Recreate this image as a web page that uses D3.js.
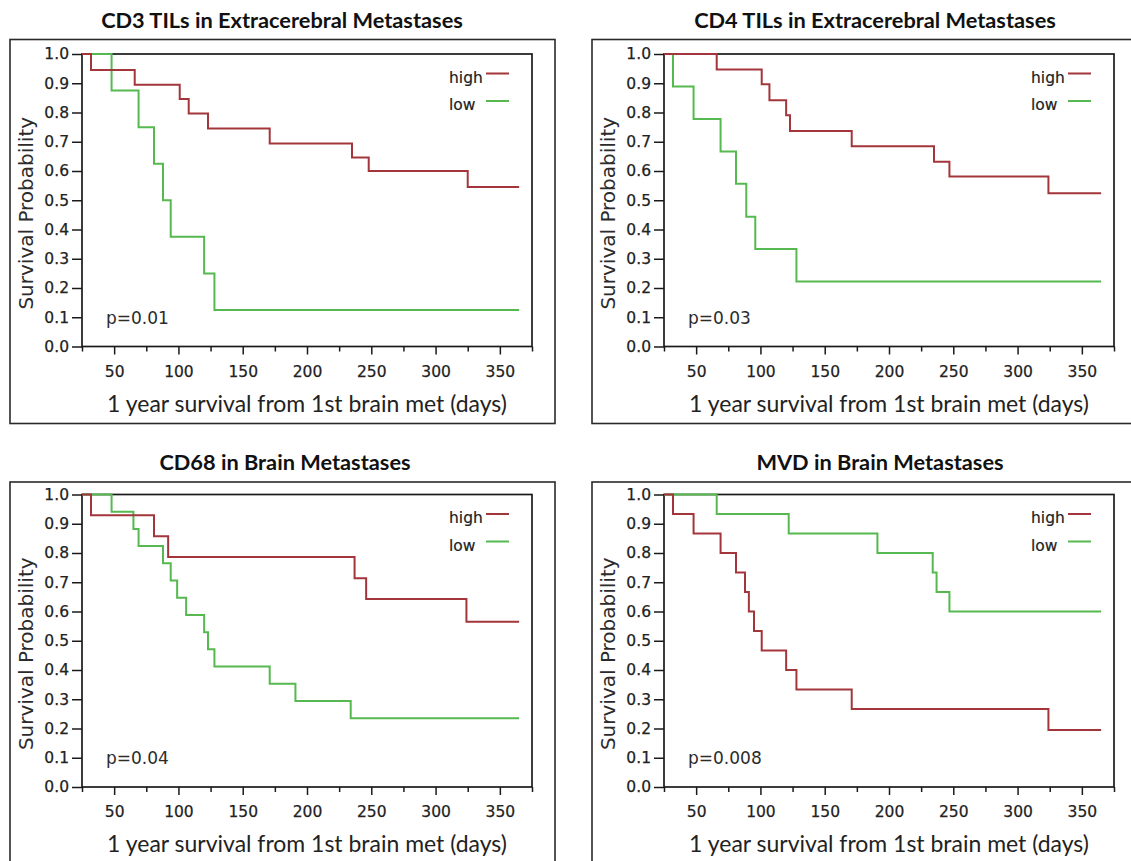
<!DOCTYPE html>
<html><head><meta charset="utf-8">
<script src="https://cdn.jsdelivr.net/npm/d3@7"></script>
<style>body{margin:0;background:#fff;} svg{display:block;}</style>
</head><body>
<svg id="chart" width="1131" height="861"></svg>
<script>
// ---------------- data ----------------
const panelTitles = [
  "CD3 TILs in Extracerebral Metastases",
  "CD4 TILs in Extracerebral Metastases",
  "CD68 in Brain Metastases",
  "MVD in Brain Metastases"
];
const pValues = ["p=0.01", "p=0.03", "p=0.04", "p=0.008"];
const legendLabels = ["high", "low"];
const xLabel = "1 year survival from 1st brain met (days)";
const yLabel = "Survival Probability";
const yTicks = [0.0, 0.1, 0.2, 0.3, 0.4, 0.5, 0.6, 0.7, 0.8, 0.9, 1.0];
const xMajorTicks = [50, 100, 150, 200, 250, 300, 350];
const xMinorTicks = [25, 75, 125, 175, 225, 275, 325, 375];

// Kaplan-Meier step curves (day, survival probability)
const cd3HighDays = [0, 32, 66, 101, 108, 123, 171, 235, 248, 325, 365];
const cd3HighSurv = [1, 0.945, 0.895, 0.846, 0.797, 0.745, 0.694, 0.646, 0.600, 0.545, 0.545];
const cd3LowDays  = [0, 48, 69, 81, 88, 94, 120, 128, 365];
const cd3LowSurv  = [1, 0.875, 0.75, 0.625, 0.5, 0.375, 0.25, 0.125, 0.125];

const cd4HighDays = [0, 66, 101, 107, 120, 123, 171, 235, 247, 324, 365];
const cd4HighSurv = [1, 0.947, 0.897, 0.842, 0.791, 0.737, 0.685, 0.632, 0.581, 0.524, 0.524];
const cd4LowDays  = [0, 32, 48, 69, 81, 89, 96, 128, 365];
const cd4LowSurv  = [1, 0.889, 0.778, 0.667, 0.556, 0.444, 0.333, 0.222, 0.222];

const cd68HighDays = [0, 32, 81, 92, 237, 246, 324, 365];
const cd68HighSurv = [1, 0.929, 0.857, 0.786, 0.714, 0.643, 0.565, 0.565];
const cd68LowDays  = [0, 48, 65, 69, 88, 94, 99, 106, 120, 123, 128, 171, 191, 234, 365];
const cd68LowSurv  = [1, 0.941, 0.882, 0.824, 0.765, 0.706, 0.647, 0.588, 0.529, 0.471, 0.412, 0.353, 0.294, 0.235, 0.235];

const mvdHighDays = [0, 32, 48, 69, 81, 88, 91, 95, 101, 120, 128, 171, 324, 365];
const mvdHighSurv = [1, 0.933, 0.867, 0.8, 0.733, 0.667, 0.6, 0.533, 0.467, 0.4, 0.333, 0.267, 0.195, 0.195];
const mvdLowDays  = [0, 66, 122, 191, 234, 237, 247, 365];
const mvdLowSurv  = [1, 0.933, 0.867, 0.8, 0.733, 0.667, 0.6, 0.6];

// ---------------- layout ----------------
const W = 1131, H = 861;
const colPlotX = [82, 664];
const rowPlotY = [54, 494.5];
const plotW = 450, plotH = 292.5;
const colBoxX = [10, 592], colBoxW = [545, 570];
const rowBoxY = [39.5, 482], rowBoxH = [384, 420];
const titleX = [[282, 875], [285, 880]];
const titleY = [20, 462];
const colors = {high: "#a3363a", low: "#55b94f"};
const textFont = "'DejaVu Sans', Arial, sans-serif";
const calibriLike = "Lato, 'Open Sans', sans-serif";
const inkColor = "#222";

const series = [
  {high: d3.zip(cd3HighDays, cd3HighSurv), low: d3.zip(cd3LowDays, cd3LowSurv)},
  {high: d3.zip(cd4HighDays, cd4HighSurv), low: d3.zip(cd4LowDays, cd4LowSurv)},
  {high: d3.zip(cd68HighDays, cd68HighSurv), low: d3.zip(cd68LowDays, cd68LowSurv)},
  {high: d3.zip(mvdHighDays, mvdHighSurv), low: d3.zip(mvdLowDays, mvdLowSurv)}
];

const svg = d3.select("#chart");
svg.append("rect").attr("width", W).attr("height", H).attr("fill", "#fff");

// helper to fit a font size so text matches a target width
function fitSize(str, family, weight, target) {
  const t = svg.append("text").attr("font-family", family).attr("font-weight", weight)
    .attr("font-size", 20).text(str);
  const len = t.node().getComputedTextLength();
  t.remove();
  return 20 * target / len;
}
const titleSize = fitSize(panelTitles[0], calibriLike, "bold", 362);
const xLabelSize = fitSize(xLabel, calibriLike, "normal", 400);

panelTitles.forEach((title, i) => {
  const col = i % 2, row = Math.floor(i / 2);
  const px = colPlotX[col], py = rowPlotY[row];
  const g = svg.append("g");

  // outer box
  g.append("rect")
    .attr("x", colBoxX[col]).attr("y", rowBoxY[row])
    .attr("width", colBoxW[col]).attr("height", rowBoxH[row])
    .attr("fill", "none").attr("stroke", "#2a2a2a").attr("stroke-width", 1.6);

  // title
  g.append("text")
    .attr("x", titleX[row][col]).attr("y", titleY[row])
    .attr("dy", "0.35em").attr("text-anchor", "middle")
    .attr("font-family", calibriLike).attr("font-weight", "bold")
    .attr("font-size", titleSize).attr("fill", "#111")
    .text(title);

  const x = d3.scaleLinear().domain([25, 375]).range([px, px + plotW]);
  const y = d3.scaleLinear().domain([0, 1]).range([py + plotH, py]);

  // y axis
  const ya = g.append("g").attr("transform", `translate(${px},0)`)
    .call(d3.axisLeft(y).tickValues(yTicks).tickFormat(d3.format(".1f"))
      .tickSize(10).tickPadding(3));
  ya.select(".domain").remove();

  // x axis major + minor
  const xa = g.append("g").attr("transform", `translate(0,${py + plotH})`)
    .call(d3.axisBottom(x).tickValues(xMajorTicks).tickFormat(d3.format("d"))
      .tickSize(8).tickPadding(11));
  xa.select(".domain").remove();
  const xm = g.append("g").attr("transform", `translate(0,${py + plotH})`)
    .call(d3.axisBottom(x).tickValues(xMinorTicks).tickFormat("").tickSize(5));
  xm.select(".domain").remove();

  [ya, xa, xm].forEach(a => {
    a.selectAll("line").attr("stroke", "#1a1a1a").attr("stroke-width", 1.5);
    a.selectAll("text").attr("font-family", textFont).attr("font-size", 15.5)
      .attr("fill", inkColor).attr("stroke", inkColor).attr("stroke-width", 0.25);
  });

  // plot frame
  g.append("rect")
    .attr("x", px).attr("y", py).attr("width", plotW).attr("height", plotH)
    .attr("fill", "none").attr("stroke", "#1a1a1a").attr("stroke-width", 1.7);

  // clip
  const cid = "clip" + i;
  svg.append("clipPath").attr("id", cid).append("rect")
    .attr("x", px).attr("y", py - 3).attr("width", plotW).attr("height", plotH + 3);

  const line = d3.line().x(d => x(d[0])).y(d => y(d[1])).curve(d3.curveStepAfter);
  ["low", "high"].forEach(k => {
    g.append("path").datum(series[i][k])
      .attr("clip-path", `url(#${cid})`)
      .attr("d", line).attr("fill", "none")
      .attr("stroke", colors[k]).attr("stroke-width", 2);
  });

  // legend
  legendLabels.forEach((lab, j) => {
    const ly = py + 19.5 + j * 27.5;
    g.append("text")
      .attr("x", px + plotW - 83).attr("y", py + 28.5 + j * 27.5)
      .attr("font-family", textFont).attr("font-size", 15.5).attr("fill", inkColor)
      .attr("stroke", inkColor).attr("stroke-width", 0.2)
      .text(lab);
    g.append("line")
      .attr("x1", px + plotW - 46).attr("x2", px + plotW - 23)
      .attr("y1", ly).attr("y2", ly)
      .attr("stroke", colors[lab]).attr("stroke-width", 2);
  });

  // p value
  g.append("text")
    .attr("x", px + 24).attr("y", py + plotH - 23)
    .attr("font-family", textFont).attr("font-size", 17).attr("fill", "#2b2b2b")
    .text(pValues[i]);

  // y label
  g.append("text")
    .attr("transform", `translate(${px - 56},${py + plotH / 2 + 13}) rotate(-90)`)
    .attr("dy", "0.35em").attr("text-anchor", "middle")
    .attr("font-family", textFont).attr("font-size", 20).attr("fill", "#2b2b2b")
    .text(yLabel);

  // x label
  g.append("text")
    .attr("x", px + plotW / 2).attr("y", py + plotH + 57)
    .attr("dy", "0.35em").attr("text-anchor", "middle")
    .attr("font-family", calibriLike).attr("font-size", xLabelSize).attr("fill", "#222")
    .text(xLabel);
});
</script>
</body></html>
